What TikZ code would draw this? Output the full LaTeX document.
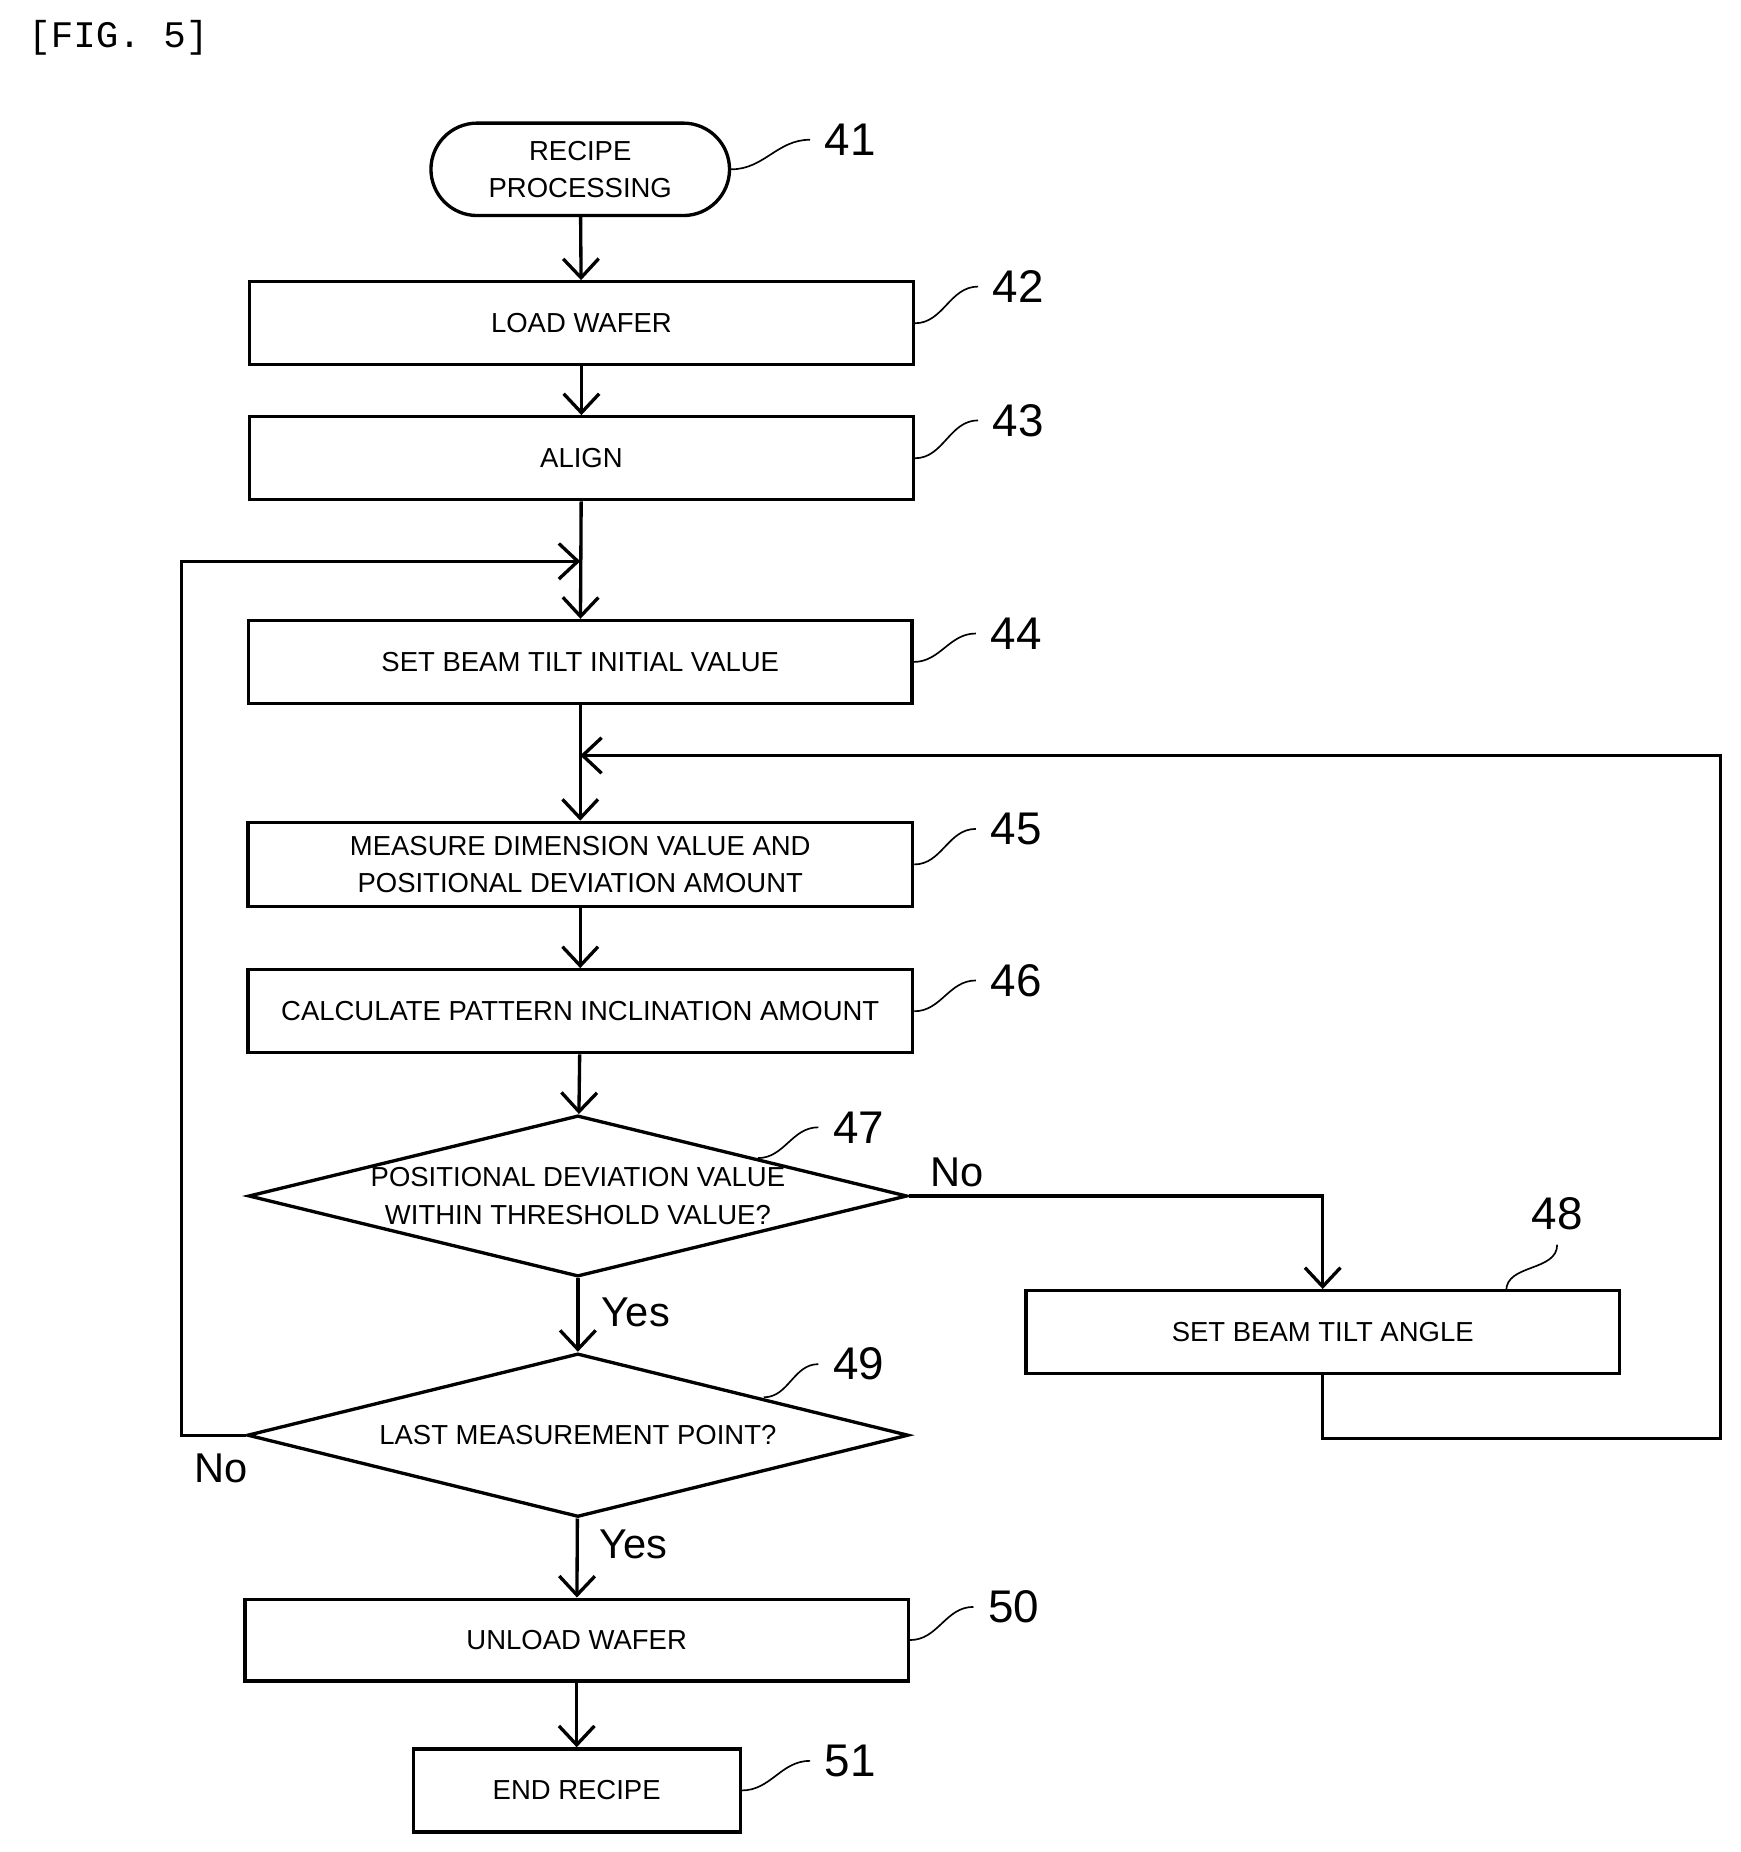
\documentclass[tikz,border=0pt]{standalone}
\usepackage{fontspec}
\setmainfont{Liberation Sans}
\setmonofont{Liberation Mono}
\usetikzlibrary{arrows.meta,shapes.geometric}
\begin{document}
\begin{tikzpicture}[x=0.01cm, y=-0.01cm,
	box/.style={draw, thick, rectangle, inner sep=0pt, font=\fontsize{6.6}{9}\selectfont, align=center},
	dec/.style={draw, thick, diamond, aspect=4.1, inner sep=0pt, font=\fontsize{6.6}{9}\selectfont, align=center},
	num/.style={font=\fontsize{11}{12}\selectfont},
	lab/.style={font=\fontsize{10}{12}\selectfont},
	arr/.style={thick, -{Straight Barb[length=1.6mm, width=3mm]}}]
	\useasboundingbox (0,0) rectangle (1470,1564);
	\node[font=\ttfamily\fontsize{9}{10}\selectfont] (fig) at (100,32) {[FIG. 5]};
	\node[box, rounded corners=0.39cm, minimum width=2.52cm, minimum height=0.78cm] (41) at (490,143) {RECIPE\\PROCESSING};
	\node[box, minimum width=5.6cm, minimum height=0.7cm] (42) at (491,273) {LOAD WAFER};
	\node[box, minimum width=5.6cm, minimum height=0.7cm] (43) at (491,387) {ALIGN};
	\node[box, minimum width=5.6cm, minimum height=0.7cm] (44) at (490,559) {SET BEAM TILT INITIAL VALUE};
	\node[box, minimum width=5.61cm, minimum height=0.71cm] (45) at (490,730) {MEASURE DIMENSION VALUE AND\\POSITIONAL DEVIATION AMOUNT};
	\node[box, minimum width=5.61cm, minimum height=0.7cm] (46) at (490,854) {CALCULATE PATTERN INCLINATION AMOUNT};
	\node[dec, minimum width=5.56cm, minimum height=1.36cm] (47) at (488,1010) {POSITIONAL DEVIATION VALUE\\WITHIN THRESHOLD VALUE?};
	\node[box, minimum width=5.01cm, minimum height=0.7cm] (48) at (1117,1125) {SET BEAM TILT ANGLE};
	\node[dec, minimum width=5.58cm, minimum height=1.38cm] (49) at (488,1212) {LAST MEASUREMENT POINT?};
	\node[box, minimum width=5.6cm, minimum height=0.69cm] (50) at (487,1385) {UNLOAD WAFER};
	\node[box, minimum width=2.76cm, minimum height=0.7cm] (51) at (487,1512) {END RECIPE};
	\coordinate (j44) at (490,474);
	\coordinate (j45) at (490,638);
	\coordinate (c47) at (1117,1010);
	\coordinate (b48) at (1117,1215);
	\coordinate (r48) at (1453,1215);
	\coordinate (t48) at (1453,638);
	\coordinate (a49) at (153,1212);
	\coordinate (t49) at (153,474);
	\draw[arr] (41) -- (42);
	\draw[arr] (42) -- (43);
	\draw[arr] (43) -- (44);
	\draw[arr] (44) -- (45);
	\draw[arr] (45) -- (46);
	\draw[arr] (46) -- (47);
	\draw[arr] (47) -- (49);
	\draw[arr] (49) -- (50);
	\draw[arr] (50) -- (51);
	\draw[arr] (47.east) -- (c47) -- (48.north);
	\draw[arr] (48.south) -- (b48) -- (r48) -- (t48) -- (j45);
	\draw[arr] (49.west) -- (a49) -- (t49) -- (j44);
	\node[lab] (no47) at (808,990) {No};
	\node[lab] (yes47) at (537,1108) {Yes};
	\node[lab] (no49) at (187,1240) {No};
	\node[lab] (yes49) at (535,1304) {Yes};
	% reference numerals
	\node[num] (l41) at (718,118) {41};
	\node[num] (l42) at (860,242) {42};
	\node[num] (l43) at (860,355) {43};
	\node[num] (l44) at (858,535) {44};
	\node[num] (l45) at (858,700) {45};
	\node[num] (l46) at (858,828) {46};
	\node[num] (l47) at (725,952) {47};
	\node[num] (l48) at (1315,1025) {48};
	\node[num] (l49) at (725,1152) {49};
	\node[num] (l50) at (856,1357) {50};
	\node[num] (l51) at (718,1487) {51};
	\coordinate (s47) at (640,978);
	\coordinate (s48) at (1272,1090);
	\coordinate (s49) at (645,1180);
	\draw (41.east) to[out=0, in=180] (l41.west);
	\draw (42.east) to[out=0, in=180] (l42.west);
	\draw (43.east) to[out=0, in=180] (l43.west);
	\draw (44.east) to[out=0, in=180] (l44.west);
	\draw (45.east) to[out=0, in=180] (l45.west);
	\draw (46.east) to[out=0, in=180] (l46.west);
	\draw (s47) to[out=0, in=180] (l47.west);
	\draw (s48) to[out=90, in=-90] (l48.south);
	\draw (s49) to[out=0, in=180] (l49.west);
	\draw (50.east) to[out=0, in=180] (l50.west);
	\draw (51.east) to[out=0, in=180] (l51.west);
\end{tikzpicture}
\end{document}
